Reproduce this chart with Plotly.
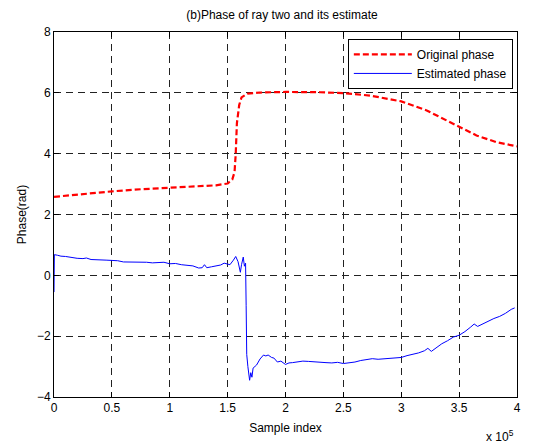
import plotly.graph_objects as go

# Sample index in units of 10^5
orig_x = [0.0, 0.25, 0.5, 0.75, 1.0, 1.25, 1.4, 1.5, 1.54, 1.56, 1.57, 1.58, 1.6, 1.62,
          1.67, 1.78, 2.0, 2.3, 2.5, 2.73, 3.0, 3.22, 3.36, 3.5, 3.65, 3.82, 3.94, 4.0]
orig_y = [2.58, 2.68, 2.76, 2.83, 2.88, 2.92, 2.96, 3.02, 3.15, 3.4, 4.0, 5.0, 5.6, 5.85,
          5.97, 6.01, 6.03, 6.02, 5.99, 5.91, 5.72, 5.42, 5.15, 4.87, 4.6, 4.38, 4.27, 4.24]

est_x = [0.0, 0.003, 0.03, 0.06, 0.1, 0.15, 0.2, 0.25, 0.28, 0.32, 0.38, 0.45, 0.5, 0.55,
         0.6, 0.68, 0.75, 0.8, 0.85, 0.9, 0.95, 1.0, 1.05, 1.1, 1.15, 1.2, 1.25, 1.28,
         1.3, 1.32, 1.36, 1.4, 1.44, 1.47, 1.5, 1.52, 1.55, 1.57, 1.59, 1.6, 1.61, 1.62,
         1.635, 1.645, 1.655, 1.66, 1.665, 1.675, 1.69, 1.7, 1.71, 1.72, 1.75, 1.78, 1.81,
         1.83, 1.85, 1.88, 1.9, 1.93, 1.96, 2.0, 2.03, 2.06, 2.1, 2.15, 2.2, 2.25, 2.3,
         2.35, 2.4, 2.45, 2.5, 2.55, 2.6, 2.65, 2.7, 2.75, 2.8, 2.85, 2.9, 2.95, 3.0,
         3.05, 3.1, 3.15, 3.2, 3.23, 3.26, 3.3, 3.35, 3.4, 3.45, 3.5, 3.55, 3.6, 3.63,
         3.66, 3.7, 3.75, 3.8, 3.85, 3.9, 3.95, 3.98]
est_y = [-0.55, 0.68, 0.66, 0.63, 0.62, 0.58, 0.56, 0.55, 0.57, 0.52, 0.5, 0.5, 0.49, 0.48,
         0.44, 0.44, 0.42, 0.43, 0.41, 0.42, 0.43, 0.38, 0.39, 0.35, 0.33, 0.31, 0.24, 0.25,
         0.35, 0.25, 0.28, 0.31, 0.34, 0.40, 0.36, 0.35, 0.5, 0.62, 0.45, 0.22, 0.1, 0.35,
         0.6, 0.3, 0.4, -1.0, -2.6, -3.0, -3.45, -3.2, -3.35, -3.05, -2.95, -2.75, -2.62,
         -2.65, -2.62, -2.7, -2.72, -2.85, -2.82, -2.93, -2.88, -2.87, -2.84, -2.82, -2.83,
         -2.85, -2.86, -2.87, -2.88, -2.86, -2.9, -2.88, -2.85, -2.8, -2.76, -2.74, -2.76,
         -2.74, -2.73, -2.72, -2.7, -2.64, -2.6, -2.55, -2.48, -2.4, -2.5, -2.38, -2.25,
         -2.15, -2.03, -1.97, -1.85, -1.7, -1.6, -1.68, -1.6, -1.52, -1.42, -1.35, -1.25,
         -1.12, -1.07]

FONT = "Liberation Sans, Arial, sans-serif"

fig = go.Figure()
fig.add_trace(go.Scatter(x=orig_x, y=orig_y, mode="lines", name="Original phase",
                         line=dict(color="#ff0000", width=2.2, dash="6px,3px")))
fig.add_trace(go.Scatter(x=est_x, y=est_y, mode="lines", name="Estimated phase",
                         line=dict(color="#0000ff", width=1)))

axis_common = dict(showline=True, linecolor="black", linewidth=1, mirror="ticks",
                   ticks="inside", ticklen=5, tickcolor="black", showgrid=True,
                   gridcolor="#222222", gridwidth=1, griddash="7px,5px", zeroline=False,
                   tickfont=dict(family=FONT, size=12, color="black"))

fig.update_xaxes(range=[0, 4], tickvals=[0, 0.5, 1, 1.5, 2, 2.5, 3, 3.5, 4],
                 ticktext=["0", "0.5", "1", "1.5", "2", "2.5", "3", "3.5", "4"],
                 title=dict(text="Sample index", font=dict(family=FONT, size=12, color="black"),
                            standoff=9),
                 **axis_common)
fig.update_yaxes(range=[-4, 8], tickvals=[-4, -2, 0, 2, 4, 6, 8],
                 title=dict(text="Phase(rad)", font=dict(family=FONT, size=12, color="black"),
                            standoff=7),
                 **axis_common)

fig.update_layout(
    width=534, height=445,
    margin=dict(l=54, r=17, t=32, b=48),
    paper_bgcolor="white", plot_bgcolor="white",
    title=dict(text="(b)Phase of ray two and its estimate", x=0.528, xanchor="center",
               y=0.966, yanchor="middle", font=dict(family=FONT, size=12, color="black")),
    legend=dict(x=0.991, xanchor="right", y=0.981, yanchor="top",
                bordercolor="black", borderwidth=1, bgcolor="white",
                font=dict(family=FONT, size=12, color="black"),
                itemwidth=58, tracegroupgap=0),
    annotations=[dict(text="x 10<sup>5</sup>", xref="paper", yref="paper",
                      x=0.963, y=-0.107, xanchor="center", yanchor="middle", showarrow=False,
                      font=dict(family=FONT, size=12, color="black"))],
)

fig.write_html("out.html")
